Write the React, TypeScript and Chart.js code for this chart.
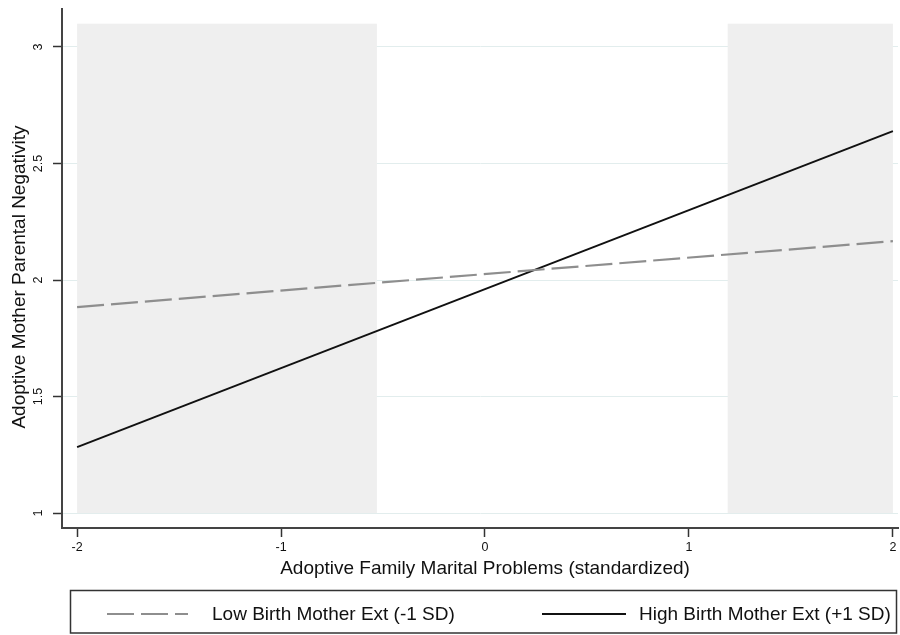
import React, { useEffect, useRef } from 'react';
import { Chart, registerables } from 'chart.js';

Chart.register(...registerables);

const xValues = [-2, 2];
const lowSeries = [1.884, 2.167];
const highSeries = [1.283, 2.639];
const xTicks = [-2, -1, 0, 1, 2];
const yTicks = [1, 1.5, 2, 2.5, 3];
const yTickLabels = ['1', '1.5', '2', '2.5', '3'];
const shadeRanges = [
  [-2, -0.53],
  [1.19, 2],
];
const shadeYRange = [1, 3.1];
const seriesLabels = ['Low Birth Mother Ext (-1 SD)', 'High Birth Mother Ext (+1 SD)'];
const xTitle = 'Adoptive Family Marital Problems (standardized)';
const yTitle = 'Adoptive Mother Parental Negativity';

const FONT = '"Liberation Sans", Arial, Helvetica, sans-serif';
const LOW_COLOR = '#8e8e8e';
const HIGH_COLOR = '#111111';

const shadePlugin = {
  id: 'shade',
  beforeDatasetsDraw(chart: any) {
    const { ctx, scales } = chart;
    const xs = scales.x;
    const ys = scales.y;
    ctx.save();
    ctx.fillStyle = '#efefef';
    const top = ys.getPixelForValue(shadeYRange[1]);
    const bottom = ys.getPixelForValue(shadeYRange[0]);
    for (const [a, b] of shadeRanges) {
      const l = xs.getPixelForValue(a);
      const r = xs.getPixelForValue(b);
      ctx.fillRect(l, top, r - l, bottom - top);
    }
    ctx.restore();
  },
};

const textPlugin = {
  id: 'texts',
  afterDraw(chart: any) {
    const { ctx, scales } = chart;
    const ys = scales.y;
    const xs = scales.x;
    ctx.save();
    ctx.fillStyle = '#111';
    // y tick labels, rotated
    ctx.font = `12.5px ${FONT}`;
    ctx.textAlign = 'center';
    ctx.textBaseline = 'middle';
    yTicks.forEach((v, i) => {
      const y = ys.getPixelForValue(v);
      ctx.save();
      ctx.translate(39, y);
      ctx.rotate(-Math.PI / 2);
      ctx.fillText(yTickLabels[i], 0, 0);
      ctx.restore();
    });
    // y title
    ctx.font = `19px ${FONT}`;
    ctx.save();
    ctx.translate(20, 277);
    ctx.rotate(-Math.PI / 2);
    ctx.fillText(yTitle, 0, 0);
    ctx.restore();
    // x title
    ctx.fillText(xTitle, xs.getPixelForValue(0), 569);
    // legend box
    ctx.strokeStyle = '#333';
    ctx.lineWidth = 1.5;
    ctx.strokeRect(70.5, 590.5, 826, 42.5);
    const ly = 614;
    // low sample
    ctx.beginPath();
    ctx.strokeStyle = LOW_COLOR;
    ctx.lineWidth = 2.2;
    ctx.setLineDash([27, 7]);
    ctx.moveTo(107, ly);
    ctx.lineTo(188, ly);
    ctx.stroke();
    ctx.setLineDash([]);
    // high sample
    ctx.beginPath();
    ctx.strokeStyle = HIGH_COLOR;
    ctx.lineWidth = 2;
    ctx.moveTo(542, ly);
    ctx.lineTo(626, ly);
    ctx.stroke();
    ctx.textAlign = 'left';
    ctx.fillStyle = '#111';
    ctx.fillText(seriesLabels[0], 212, ly + 1);
    ctx.fillText(seriesLabels[1], 639, ly + 1);
    ctx.restore();
  },
};

export default function App() {
  const ref = useRef<HTMLCanvasElement | null>(null);

  useEffect(() => {
    if (!ref.current) return;
    const chart = new Chart(ref.current, {
      type: 'line',
      data: {
        datasets: [
          {
            label: seriesLabels[0],
            data: xValues.map((x, i) => ({ x, y: lowSeries[i] })),
            borderColor: LOW_COLOR,
            borderWidth: 2.2,
            borderDash: [27, 7],
            pointRadius: 0,
            fill: false,
          },
          {
            label: seriesLabels[1],
            data: xValues.map((x, i) => ({ x, y: highSeries[i] })),
            borderColor: HIGH_COLOR,
            borderWidth: 2,
            pointRadius: 0,
            fill: false,
          },
        ],
      },
      options: {
        responsive: false,
        animation: false,
        layout: { padding: { top: 9, right: 2, bottom: 50, left: 0 } },
        plugins: {
          legend: { display: false },
          tooltip: { enabled: false },
        },
        scales: {
          x: {
            type: 'linear',
            min: -2.074,
            max: 2.025,
            afterBuildTicks: (s: any) => {
              s.ticks = xTicks.map((v) => ({ value: v }));
            },
            afterFit: (s: any) => {
              s.height = 57;
            },
            grid: {
              drawOnChartArea: false,
              drawTicks: true,
              tickLength: 9,
              tickColor: '#333',
              tickWidth: 1.5,
            },
            border: { color: '#444', width: 2 },
            ticks: {
              font: { family: FONT, size: 12.5 },
              color: '#111',
              padding: 3,
              maxRotation: 0,
              callback: (v: any) => String(v),
            },
          },
          y: {
            type: 'linear',
            min: 0.936,
            max: 3.163,
            afterBuildTicks: (s: any) => {
              s.ticks = yTicks.map((v) => ({ value: v }));
            },
            afterFit: (s: any) => {
              s.width = 62;
            },
            grid: {
              color: '#e2eded',
              lineWidth: 1,
              drawTicks: true,
              tickLength: 9,
              tickColor: '#333',
              tickWidth: 1.5,
            },
            border: { color: '#444', width: 2 },
            ticks: { display: false },
          },
        },
      },
      plugins: [shadePlugin, textPlugin],
    });
    return () => chart.destroy();
  }, []);

  return (
    <div style={{ position: 'absolute', left: 0, top: 0, width: 900, height: 635, background: '#fff' }}>
      <canvas ref={ref} width={900} height={635} />
    </div>
  );
}
